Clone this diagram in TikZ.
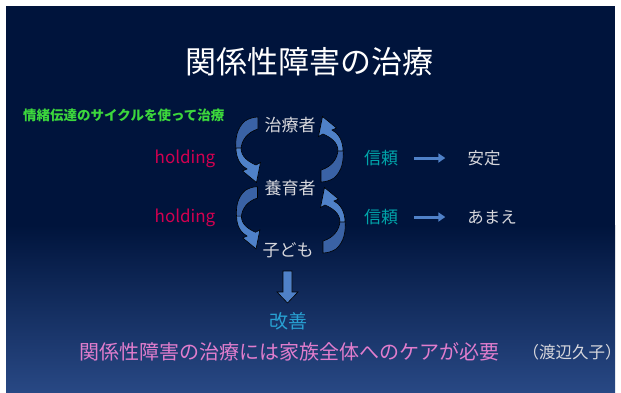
\documentclass[tikz,border=0pt]{standalone}
\usepackage{fontspec}
\setmainfont{Noto Sans CJK JP}
\usetikzlibrary{arrows.meta}
\definecolor{bgtop}{RGB}{0,20,60}
\definecolor{bgbot}{RGB}{40,72,132}
\definecolor{arrowfront}{RGB}{79,129,200}
\definecolor{arrowback}{RGB}{58,98,165}
\definecolor{cuegreen}{RGB}{60,215,60}
\definecolor{holdred}{RGB}{210,0,80}
\definecolor{trustteal}{RGB}{0,165,170}
\definecolor{improveblue}{RGB}{40,160,210}
\definecolor{notepink}{RGB}{225,125,205}
\definecolor{lightgray}{RGB}{215,215,220}
\tikzset{
  lbl/.style={inner sep=0pt, anchor=center},
  person/.style={lbl, text=lightgray, font=\fontsize{17}{17}\selectfont},
  holdlbl/.style={lbl, text=holdred, font=\fontsize{17}{17}\selectfont},
  trustlbl/.style={lbl, text=trustteal, font=\fontsize{17}{17}\selectfont},
  resultlbl/.style={lbl, text=lightgray, font=\fontsize{16.5}{16.5}\selectfont},
  trustarrow/.style={draw=arrowfront, line width=3pt, -{Triangle[length=7pt,width=9pt]}, shorten <=16pt, shorten >=22pt},
  shapeline/.style={draw=black, line width=0.6pt}
}
\newcommand{\curvedblockarrow}[1]{%
  \begin{scope}[#1]
    \filldraw[shapeline, fill=arrowback] (-3,-29) .. controls (-11,-22) and (-13,-12) .. (-12,0)
      -- (-7,0) .. controls (-7,-10) and (0,-18) .. (10,-21) -- (10,-33)
      .. controls (5,-33) and (0,-31) .. (-3,-29) -- cycle;
    \filldraw[shapeline, fill=arrowfront] (-12,-2) .. controls (-12,9) and (-7,16) .. (-1,19)
      -- (-5.5,21) -- (8.5,32.5) -- (12.5,12.5) -- (8,15)
      .. controls (1,12) and (-7,7) .. (-7,-2) -- cycle;
  \end{scope}}
\begin{document}
\begin{tikzpicture}[x=1pt,y=-1pt]
\useasboundingbox (0,0) rectangle (621,392);
\fill[white] (0,0) rectangle (621,392);
\fill[bgtop] (6,6) rectangle (615,392);
\shade[top color=bgtop, bottom color=bgbot] (6,225) rectangle (615,392);

\node[lbl, text=white, font=\fontsize{31}{31}\selectfont] (title) at (309,62) {関係性障害の治療};
\node[lbl, anchor=west, text=cuegreen, font=\fontsize{13.5}{13.5}\selectfont\bfseries] (cue) at (23,115) {情緒伝達のサイクルを使って治療};

\node[person] (therapist) at (290,125) {治療者};
\node[person] (parent) at (290,188) {養育者};
\node[person] (child) at (288,250) {子ども};

\node[holdlbl] (hold1) at (185,159) {holding};
\node[holdlbl] (hold2) at (185,218) {holding};

\node[trustlbl] (trust1) at (381,158) {信頼};
\node[trustlbl] (trust2) at (381,217) {信頼};
\node[resultlbl] (stable) at (484,158) {安定};
\node[resultlbl] (amae) at (492,217) {あまえ};

\draw[trustarrow] (trust1.east) -- (stable.west);
\draw[trustarrow] (trust2.east) -- (stable.west |- trust2.east);

\curvedblockarrow{shift={(248,150)}}
\curvedblockarrow{shift={(331,149)}, rotate=180}
\curvedblockarrow{shift={(248,218)}, scale=0.95}
\curvedblockarrow{shift={(333,220)}, rotate=180}

\filldraw[shapeline, fill=arrowfront] (283,271) -- (292,271) -- (292,292) -- (298,292)
  -- (287.5,303) -- (277,292) -- (283,292) -- cycle;

\node[lbl, text=improveblue, font=\fontsize{19}{19}\selectfont] (improve) at (288,321) {改善};
\node[lbl, anchor=west, text=notepink, font=\fontsize{20}{20}\selectfont] (note) at (79,352) {関係性障害の治療には家族全体へのケアが必要};
\node[lbl, text=lightgray, font=\fontsize{16.5}{16.5}\selectfont] (author) at (572,352) {（渡辺久子）};
\end{tikzpicture}
\end{document}
